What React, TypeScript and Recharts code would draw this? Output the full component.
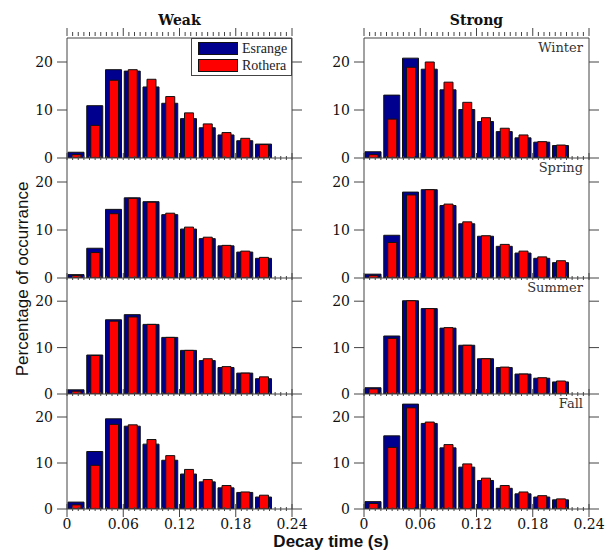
import React from 'react'
import { BarChart, Bar, XAxis, YAxis, Legend } from 'recharts'

// bin centres of decay time (s)
const binCenters = [0.01, 0.03, 0.05, 0.07, 0.09, 0.11, 0.13, 0.15, 0.17, 0.19, 0.21]

// minor ticks every 0.006 s, labelled ones every 0.06 s
const xTicks = [
  0, 0.006, 0.012, 0.018, 0.024, 0.03, 0.036, 0.042, 0.048, 0.054,
  0.06, 0.066, 0.072, 0.078, 0.084, 0.09, 0.096, 0.102, 0.108, 0.114,
  0.12, 0.126, 0.132, 0.138, 0.144, 0.15, 0.156, 0.162, 0.168, 0.174,
  0.18, 0.186, 0.192, 0.198, 0.204, 0.21, 0.216, 0.222, 0.228, 0.234, 0.24,
]
const yTicks = [0, 10, 20]
const seasons = ['Winter', 'Spring', 'Summer', 'Fall']
const columns = ['Weak', 'Strong']

// percentage of occurrence, weak echoes
const weakWinterEsrange = [1.2, 10.9, 18.4, 18.1, 14.8, 11.4, 8.2, 6.3, 4.8, 3.6, 2.9]
const weakWinterRothera = [0.7, 6.8, 16.2, 18.4, 16.4, 12.8, 9.4, 7.1, 5.3, 4.1, 2.8]
const weakSpringEsrange = [0.7, 6.2, 14.3, 16.7, 15.9, 13.2, 10.2, 8.2, 6.7, 5.4, 4.1]
const weakSpringRothera = [0.5, 5.3, 13.4, 16.6, 15.8, 13.5, 10.6, 8.5, 6.8, 5.6, 4.3]
const weakSummerEsrange = [0.9, 8.4, 16.0, 17.1, 15.0, 12.2, 9.4, 7.2, 5.7, 4.5, 3.3]
const weakSummerRothera = [0.6, 8.3, 15.7, 16.6, 15.0, 12.2, 9.4, 7.6, 5.9, 4.5, 3.7]
const weakFallEsrange = [1.5, 12.5, 19.6, 18.0, 14.1, 10.6, 7.6, 5.9, 4.6, 3.6, 2.6]
const weakFallRothera = [0.9, 9.5, 18.4, 18.3, 15.1, 11.6, 8.6, 6.4, 5.1, 3.7, 3.0]

// percentage of occurrence, strong echoes
const strongWinterEsrange = [1.3, 13.1, 20.8, 18.5, 14.2, 10.1, 7.6, 5.5, 4.2, 3.3, 2.6]
const strongWinterRothera = [0.7, 8.1, 18.9, 20.0, 15.8, 11.6, 8.4, 6.2, 4.8, 3.4, 2.7]
const strongSpringEsrange = [0.8, 8.9, 17.9, 18.4, 15.1, 11.3, 8.7, 6.6, 5.2, 4.1, 3.2]
const strongSpringRothera = [0.5, 7.4, 17.3, 18.4, 15.4, 11.7, 8.8, 7.0, 5.6, 4.4, 3.6]
const strongSummerEsrange = [1.35, 12.5, 20.1, 18.4, 14.2, 10.5, 7.6, 5.7, 4.3, 3.4, 2.6]
const strongSummerRothera = [1.1, 12.0, 20.1, 18.4, 14.3, 10.5, 7.6, 5.8, 4.3, 3.5, 2.8]
const strongFallEsrange = [1.6, 15.9, 22.8, 18.6, 13.3, 9.1, 6.2, 4.5, 3.3, 2.6, 2.0]
const strongFallRothera = [1.2, 13.4, 22.0, 18.9, 14.0, 9.8, 6.7, 5.1, 3.7, 2.9, 2.2]

const panels = [
  [weakWinterEsrange, weakWinterRothera, strongWinterEsrange, strongWinterRothera],
  [weakSpringEsrange, weakSpringRothera, strongSpringEsrange, strongSpringRothera],
  [weakSummerEsrange, weakSummerRothera, strongSummerEsrange, strongSummerRothera],
  [weakFallEsrange, weakFallRothera, strongFallEsrange, strongFallRothera],
]

const BLUE = '#00008f'
const RED = '#ff0000'
const AXIS = '#444'
const SERIF = '"DejaVu Serif", serif'
const TIMES = '"Liberation Serif", "Times New Roman", serif'
const SANS = '"Liberation Sans", Arial, sans-serif'

// layout of the plot areas
const plotLeft = [67, 364]
const plotW = 225
const rowEdges = [38, 158, 278, 394, 509]
const yAxisW = 45
const rightAxisW = 15
const topAxisH = 12
const chartW = yAxisW + plotW + rightAxisW

const isMajor = (v: number) => Math.abs(v / 0.06 - Math.round(v / 0.06)) < 1e-6
const fmt = (v: number) => (v === 0 ? '0' : v.toFixed(2))

function BottomTick(props: any) {
  const { x, y, payload, labels } = props
  const major = isMajor(payload.value)
  return (
    <g>
      <line x1={x} y1={y} x2={x} y2={y - (major ? 7 : 4)} stroke={AXIS} />
      {labels && major && (
        <>
          <line x1={x} y1={y} x2={x} y2={y + 6} stroke={AXIS} />
          <text x={x} y={y + 18} textAnchor="middle" fontFamily={SERIF} fontSize={14} fill="#111">
            {fmt(payload.value)}
          </text>
        </>
      )}
    </g>
  )
}

function TopTick(props: any) {
  const { x, y, payload } = props
  const major = isMajor(payload.value)
  return <line x1={x} y1={y} x2={x} y2={y - (major ? 8 : 4)} stroke={AXIS} />
}

function LegendBox({ payload }: any) {
  return (
    <div style={{ border: `1px solid ${AXIS}`, background: '#fff', width: 99, height: 36, position: 'relative' }}>
      {(payload || []).map((p: any, i: number) => (
        <div key={p.value} style={{ position: 'absolute', left: 6, top: 3 + i * 17, display: 'flex', alignItems: 'center' }}>
          <div style={{ width: 38, height: 11, background: p.color, border: '1px solid #111' }} />
          <span style={{ marginLeft: 4, fontFamily: TIMES, fontSize: 14, color: '#222', lineHeight: '13px' }}>{p.value}</span>
        </div>
      ))}
    </div>
  )
}

function Panel({ row, col, esrange, rothera }: { row: number; col: number; esrange: number[]; rothera: number[] }) {
  const data = binCenters.map((x, i) => ({ x, esrange: esrange[i], rothera: rothera[i] }))
  const plotH = rowEdges[row + 1] - rowEdges[row]
  const top = row === 0 ? topAxisH : 0
  const bottom = row === 3 ? 30 : 1
  const h = top + plotH + bottom

  return (
    <div style={{ position: 'absolute', left: plotLeft[col] - yAxisW, top: rowEdges[row] - top, width: chartW, height: h }}>
      <BarChart width={chartW} height={h} data={data} margin={{ top: 0, right: 0, bottom: 0, left: 0 }}>
        {row === 0 && (
          <XAxis
            xAxisId="top"
            orientation="top"
            type="number"
            dataKey="x"
            domain={[0, 0.24]}
            allowDataOverflow
            ticks={xTicks}
            interval={0}
            tickSize={0}
            tickLine={false}
            height={topAxisH}
            stroke={AXIS}
            tick={(p: any) => <TopTick {...p} />}
          />
        )}
        <XAxis
          xAxisId="t"
          type="number"
          dataKey="x"
          domain={[0, 0.24]}
          allowDataOverflow
          ticks={xTicks}
          interval={0}
          tickSize={0}
          tickLine={false}
          height={bottom}
          stroke={AXIS}
          tick={(p: any) => <BottomTick {...p} labels={row === 3} />}
        />
        <XAxis xAxisId="b" type="number" dataKey="x" domain={[0, 0.24]} allowDataOverflow hide height={0} />
        <YAxis
          yAxisId="l"
          type="number"
          domain={[0, 25]}
          allowDataOverflow
          ticks={yTicks}
          interval={0}
          tickSize={10}
          tickMargin={4}
          width={yAxisW}
          stroke={AXIS}
          tick={{ fontFamily: SERIF, fontSize: 14, fill: '#111' }}
        />
        <YAxis
          yAxisId="r"
          orientation="right"
          type="number"
          domain={[0, 25]}
          allowDataOverflow
          ticks={yTicks}
          interval={0}
          tickSize={10}
          width={rightAxisW}
          stroke={AXIS}
          tick={() => <g />}
        />
        <Bar xAxisId="b" yAxisId="l" dataKey="esrange" name="Esrange" fill={BLUE} stroke="#111" barSize={16} isAnimationActive={false} />
        <Bar xAxisId="t" yAxisId="l" dataKey="rothera" name="Rothera" fill={RED} stroke="#111" barSize={9} isAnimationActive={false} />
        {row === 0 && col === 0 && (
          <Legend
            layout="vertical"
            align="center"
            verticalAlign="middle"
            wrapperStyle={{ left: 191 - (plotLeft[0] - yAxisW), top: topAxisH, width: 101, height: 38 }}
            content={(p: any) => <LegendBox payload={p.payload} />}
          />
        )}
      </BarChart>
    </div>
  )
}

export default function App() {
  return (
    <div style={{ position: 'absolute', left: 0, top: 0, width: 610, height: 552, background: '#fff' }}>
      <style>{'.recharts-surface{overflow:visible}'}</style>
      {panels.map((p, row) => (
        <React.Fragment key={row}>
          <Panel row={row} col={0} esrange={p[0]} rothera={p[1]} />
          <Panel row={row} col={1} esrange={p[2]} rothera={p[3]} />
        </React.Fragment>
      ))}
      <svg width={610} height={552} style={{ position: 'absolute', left: 0, top: 0, pointerEvents: 'none' }}>
        {columns.map((c, i) => (
          <text key={c} x={plotLeft[i] + plotW / 2} y={25} textAnchor="middle" fontFamily={SERIF} fontWeight="bold" fontSize={14} fill="#111">
            {c}
          </text>
        ))}
        {seasons.map((s, i) => (
          <text key={s} x={583} y={rowEdges[i] + 14} textAnchor="end" fontFamily={SERIF} fontSize={13} fill="#333">
            {s}
          </text>
        ))}
        <text transform="translate(28,279) rotate(-90)" textAnchor="middle" fontFamily={SANS} fontSize={17} fill="#111">
          Percentage of occurrance
        </text>
        <text x={331} y={547} textAnchor="middle" fontFamily={SANS} fontWeight="bold" fontSize={17} fill="#111">
          Decay time (s)
        </text>
      </svg>
    </div>
  )
}
